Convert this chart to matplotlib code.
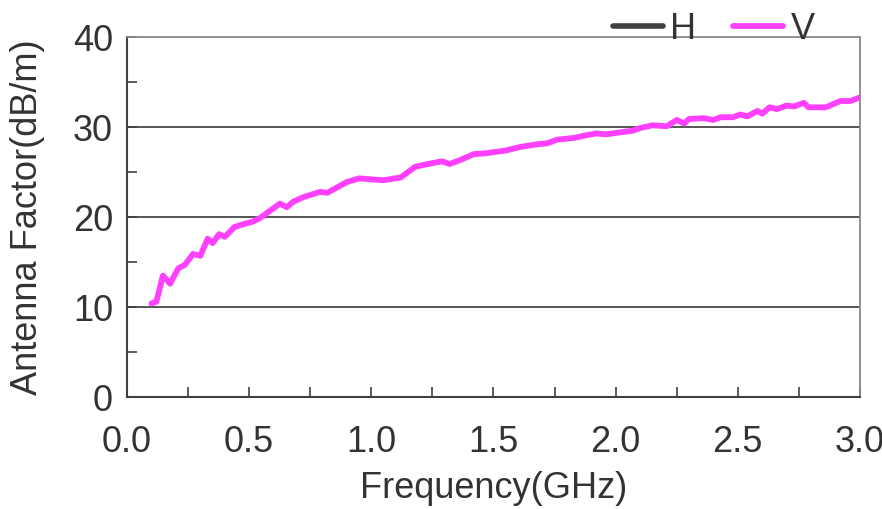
import matplotlib
matplotlib.use("Agg")
import matplotlib.pyplot as plt
from matplotlib.ticker import MultipleLocator

plt.rcParams['font.family'] = ['Liberation Sans', 'DejaVu Sans']

freq_v = [0.10, 0.12, 0.147, 0.176, 0.21, 0.237, 0.27, 0.30, 0.33, 0.35, 0.377, 0.40, 0.44,
          0.475, 0.515, 0.545, 0.585, 0.626, 0.654, 0.68, 0.72, 0.79, 0.82, 0.90, 0.95, 1.05,
          1.12, 1.18, 1.25, 1.29, 1.32, 1.36, 1.42, 1.47, 1.55, 1.61, 1.68, 1.72, 1.76, 1.83,
          1.88, 1.92, 1.96, 2.07, 2.10, 2.15, 2.21, 2.25, 2.28, 2.30, 2.36, 2.40, 2.43, 2.48,
          2.51, 2.54, 2.58, 2.60, 2.63, 2.66, 2.70, 2.73, 2.77, 2.79, 2.86, 2.92, 2.96, 3.0]
af_v = [10.4, 10.6, 13.5, 12.6, 14.3, 14.7, 15.9, 15.7, 17.6, 17.1, 18.1, 17.8, 18.9,
        19.2, 19.5, 19.9, 20.7, 21.5, 21.1, 21.7, 22.2, 22.8, 22.7, 23.9, 24.3, 24.1,
        24.4, 25.6, 26.0, 26.2, 25.9, 26.3, 27.0, 27.1, 27.4, 27.8, 28.1, 28.2, 28.6, 28.8,
        29.1, 29.3, 29.2, 29.6, 29.9, 30.2, 30.1, 30.8, 30.4, 30.9, 31.0, 30.8, 31.1, 31.1,
        31.4, 31.2, 31.8, 31.5, 32.2, 32.0, 32.4, 32.3, 32.7, 32.2, 32.2, 32.9, 32.9, 33.3]

x_ticks = [0.0, 0.5, 1.0, 1.5, 2.0, 2.5, 3.0]
y_ticks = [0, 10, 20, 30, 40]

FS = 26

fig = plt.figure(figsize=(8.82, 5.09), dpi=100)
ax = fig.add_axes([0.144, 0.22, 0.831, 0.707])

for yv in [10, 20, 30]:
    ax.axhline(yv, color='#555555', lw=1.4, zorder=1)

ax.plot([], [], color='#404040', lw=4, label='H', solid_capstyle='round')
ax.plot(freq_v, af_v, color='#FF40FF', lw=4.2, label='V', solid_capstyle='round', zorder=3)

ax.set_xlim(0, 3.0)
ax.set_ylim(0, 40)
ax.set_xticks(x_ticks)
ax.set_xticklabels([f"{v:.1f}" for v in x_ticks])
ax.set_yticks(y_ticks)
ax.xaxis.set_minor_locator(MultipleLocator(0.25))
ax.yaxis.set_minor_locator(MultipleLocator(5))
ax.tick_params(which='both', direction='in', colors='#404040', labelcolor='#333333', labelsize=FS)
ax.tick_params(which='both', length=7, width=1.2)
ax.tick_params(axis='x', pad=20)
ax.tick_params(axis='y', pad=10)

for s in ['left', 'bottom']:
    ax.spines[s].set_color('#404040')
    ax.spines[s].set_linewidth(1.5)
for s in ['top', 'right']:
    ax.spines[s].set_color('#888888')
    ax.spines[s].set_linewidth(1.3)

ax.set_xlabel("Frequency(GHz)", fontsize=FS, color='#333333', labelpad=8)
ax.set_ylabel("Antenna Factor(dB/m)", fontsize=FS, color='#333333', labelpad=20)

fig.legend(loc='upper right', bbox_to_anchor=(0.94, 1.005), ncol=2, frameon=False,
           fontsize=FS, handlelength=1.4, handletextpad=0.2, columnspacing=1.0,
           labelcolor='#333333', borderaxespad=0)

fig.savefig("out.png", dpi=100)
